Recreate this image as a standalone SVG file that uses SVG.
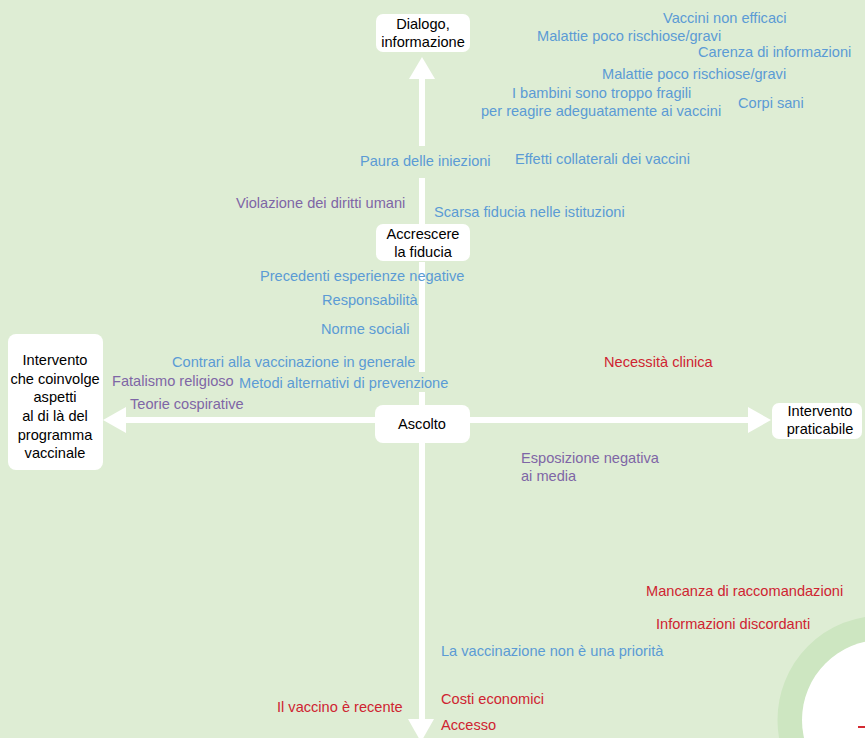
<svg xmlns="http://www.w3.org/2000/svg" width="865" height="738" viewBox="0 0 865 738">
<style>
text{font-family:"Liberation Sans",Arial,sans-serif;font-size:14.6px}
.b{fill:#5b9bd5}
.p{fill:#7e66a6}
.r{fill:#cf2431}
.k{fill:#000;text-anchor:middle}
.box{fill:#fff}
.ln{fill:#fff}
</style>
<rect width="865" height="738" fill="#deedd4"/>
<circle cx="882" cy="720" r="92" fill="none" stroke="#cde6c1" stroke-width="25"/>
<circle cx="882" cy="720" r="80" fill="#fff"/>
<rect x="858" y="726" width="7" height="2" fill="#d42a32"/>
<g id="connectors" class="ln">
<rect x="419" y="79" width="6" height="67"/>
<rect x="419" y="178" width="6" height="46"/>
<rect x="419" y="262" width="6" height="26"/>
<rect x="419" y="288" width="6" height="84"/>
<rect x="419" y="392" width="6" height="13"/>
<rect x="419" y="443" width="6" height="277"/>
<rect x="125" y="417" width="250" height="6"/>
<rect x="470" y="417" width="279" height="6"/>
<polygon points="422,57 409,79 435,79"/>
<polygon points="421,742 408,719 434,719"/>
<polygon points="103,420 126,407 126,433"/>
<polygon points="771,420 748,407 748,433"/>
</g>
<g id="n-dialogo"><rect class="box" x="376" y="14" width="94" height="38" rx="7"/><text class="k" x="423" y="29">Dialogo,</text><text class="k" x="423" y="47">informazione</text></g>
<g id="n-fiducia"><rect class="box" x="376" y="224" width="94" height="37" rx="7"/><text class="k" x="423" y="239">Accrescere</text><text class="k" x="423" y="257">la fiducia</text></g>
<g id="n-ascolto"><rect class="box" x="375" y="405" width="95" height="38" rx="8"/><text class="k" x="422" y="429">Ascolto</text></g>
<g id="n-praticabile"><rect class="box" x="772" y="403" width="90" height="36" rx="7"/><text class="k" x="820" y="416">Intervento</text><text class="k" x="820" y="434">praticabile</text></g>
<g id="n-oltre"><rect class="box" x="8" y="334" width="95" height="136" rx="8"/><text class="k" x="55" y="365">Intervento</text><text class="k" x="55" y="384">che coinvolge</text><text class="k" x="55" y="402">aspetti</text><text class="k" x="55" y="421">al di là del</text><text class="k" x="55" y="440">programma</text><text class="k" x="55" y="458">vaccinale</text></g>
<g id="labels">
<text class="b" x="663" y="23">Vaccini non efficaci</text>
<text class="b" x="537" y="41">Malattie poco rischiose/gravi</text>
<text class="b" x="698" y="57">Carenza di informazioni</text>
<text class="b" x="602" y="79">Malattie poco rischiose/gravi</text>
<text class="b" x="512" y="98">I bambini sono troppo fragili</text>
<text class="b" x="481" y="116">per reagire adeguatamente ai vaccini</text>
<text class="b" x="738" y="108">Corpi sani</text>
<text class="b" x="360" y="166">Paura delle iniezioni</text>
<text class="b" x="515" y="164">Effetti collaterali dei vaccini</text>
<text class="p" x="236" y="208">Violazione dei diritti umani</text>
<text class="b" x="434" y="217">Scarsa fiducia nelle istituzioni</text>
<text class="b" x="260" y="281">Precedenti esperienze negative</text>
<text class="b" x="322" y="305">Responsabilità</text>
<text class="b" x="321" y="334">Norme sociali</text>
<text class="b" x="172" y="367">Contrari alla vaccinazione in generale</text>
<text class="p" x="112" y="386">Fatalismo religioso</text>
<text class="b" x="239" y="388">Metodi alternativi di prevenzione</text>
<text class="p" x="130" y="409">Teorie cospirative</text>
<text class="r" x="604" y="367">Necessità clinica</text>
<text class="p" x="521" y="463">Esposizione negativa</text>
<text class="p" x="521" y="481">ai media</text>
<text class="r" x="646" y="596">Mancanza di raccomandazioni</text>
<text class="r" x="656" y="629">Informazioni discordanti</text>
<text class="b" x="441" y="656">La vaccinazione non è una priorità</text>
<text class="r" x="441" y="704">Costi economici</text>
<text class="r" x="277" y="712">Il vaccino è recente</text>
<text class="r" x="441" y="730">Accesso</text>
</g>
</svg>
